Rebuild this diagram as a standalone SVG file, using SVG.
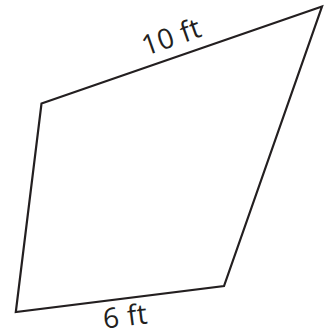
<svg xmlns="http://www.w3.org/2000/svg" width="336" height="331" viewBox="0 0 336 331">
<style>
.edge{fill:none;stroke:#231f20;stroke-width:2.2;stroke-linejoin:miter}
.lbl{font-family:"Open Sans","Liberation Sans",sans-serif;font-size:28px;fill:#231f20;text-anchor:middle;letter-spacing:0.5px}
</style>
<rect width="336" height="331" fill="#fff"/>
<g id="connectors">
<polygon class="edge" points="41.5,103.5 322,6.5 224,286 15.8,312"/>
</g>
<g id="label-top"><text class="lbl" transform="translate(174.5,46) rotate(-19.3)">10 ft</text></g>
<g id="label-bottom"><text class="lbl" transform="translate(126.5,326) rotate(-7.2)">6 ft</text></g>
</svg>
